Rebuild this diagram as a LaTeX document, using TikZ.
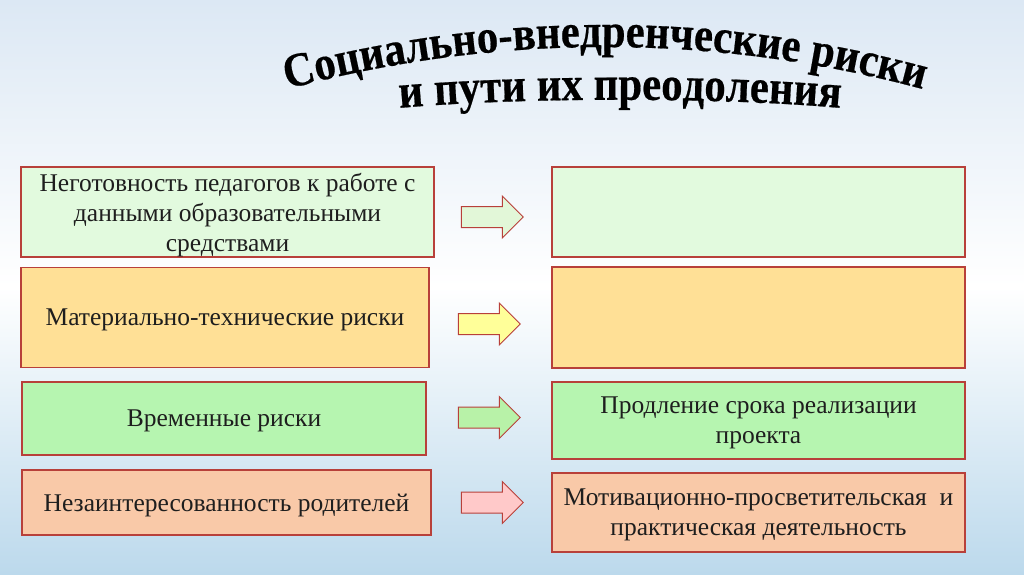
\documentclass[tikz,border=0pt]{standalone}
\usepackage{fontspec}
\setmainfont{Liberation Serif}
\newfontfamily\titlefont[FakeStretch=0.89,FakeBold=0.4]{Liberation Serif Bold}
\newcommand\titlestyle{\titlefont\fontsize{48}{54}\selectfont}
\usetikzlibrary{shapes.arrows,decorations.text}
\definecolor{boxred}{HTML}{B8403A}
\definecolor{textgray}{HTML}{1E1E1E}
\definecolor{bgtop}{HTML}{DCE8F4}
\definecolor{bgbottom}{HTML}{BCD9EC}
\definecolor{paleGreen}{HTML}{E2FADE}
\definecolor{paleOrange}{HTML}{FFE096}
\definecolor{midGreen}{HTML}{B6F5B0}
\definecolor{peach}{HTML}{F9C9A8}
\definecolor{arrowGreen}{HTML}{E2F7D8}
\definecolor{arrowYellow}{HTML}{FFFF99}
\definecolor{arrowMid}{HTML}{B8F2A8}
\definecolor{arrowPink}{HTML}{FFC9C9}

\begin{document}
\begin{tikzpicture}[x=1pt,y=1pt,
    riskbox/.style={draw=boxred,line width=1.2pt,align=center,inner sep=0pt,text depth=0pt,
        text=textgray,font=\fontsize{25.5}{30}\selectfont},
    goarrow/.style={single arrow,draw=boxred,line width=1pt,minimum height=62pt,
        minimum width=41pt,single arrow head extend=10.5pt,inner sep=10pt}]
    % background
    \shade[top color=bgtop,bottom color=bgbottom,middle color=white] (0,0) rectangle (1024,-574);
    \useasboundingbox (0,0) rectangle (1024,-574);

    % title
    \path[decorate,decoration={text along path,text align=center,
        text={|\titlestyle|Социально-внедренческие риски}}]
        (268.5,-94.3) arc[start angle=106,end angle=74,radius=1221pt];
    \path[decorate,decoration={text along path,text align=center,
        text={|\titlestyle|и пути их преодоления}}]
        (370,-111) .. controls (495,-96) and (745,-96) .. (870,-111);

    % risks
    \node[riskbox,fill=paleGreen,minimum width=413pt,minimum height=90pt] (risk1) at (227.5,-212)
        {Неготовность педагогов к работе с\\данными образовательными\\средствами};
    \node[riskbox,fill=paleOrange,minimum width=408pt,minimum height=100pt] (risk2) at (225,-317.5)
        {Материально-технические риски};
    \node[riskbox,fill=midGreen,minimum width=404pt,minimum height=73pt] (risk3) at (224,-418.5)
        {Временные риски};
    \node[riskbox,fill=peach,minimum width=409pt,minimum height=65pt] (risk4) at (226.5,-502.5)
        {Незаинтересованность родителей};

    % ways
    \node[riskbox,fill=paleGreen,minimum width=413pt,minimum height=90pt] (way1) at (758.5,-212) {};
    \node[riskbox,fill=paleOrange,minimum width=413pt,minimum height=101pt] (way2) at (758.5,-317.5) {};
    \node[riskbox,fill=midGreen,minimum width=413pt,minimum height=77pt] (way3) at (758.5,-420.5)
        {Продление срока реализации\\проекта};
    \node[riskbox,fill=peach,minimum width=413pt,minimum height=79pt] (way4) at (758.5,-512.5)
        {Мотивационно-просветительская\ \ и\\практическая деятельность};

    % arrows
    \node[goarrow,fill=arrowGreen] (go1) at (487,-217) {};
    \node[goarrow,fill=arrowYellow] (go2) at (484,-324) {};
    \node[goarrow,fill=arrowMid] (go3) at (484,-417.5) {};
    \node[goarrow,fill=arrowPink] (go4) at (487,-502.5) {};
\end{tikzpicture}
\end{document}
